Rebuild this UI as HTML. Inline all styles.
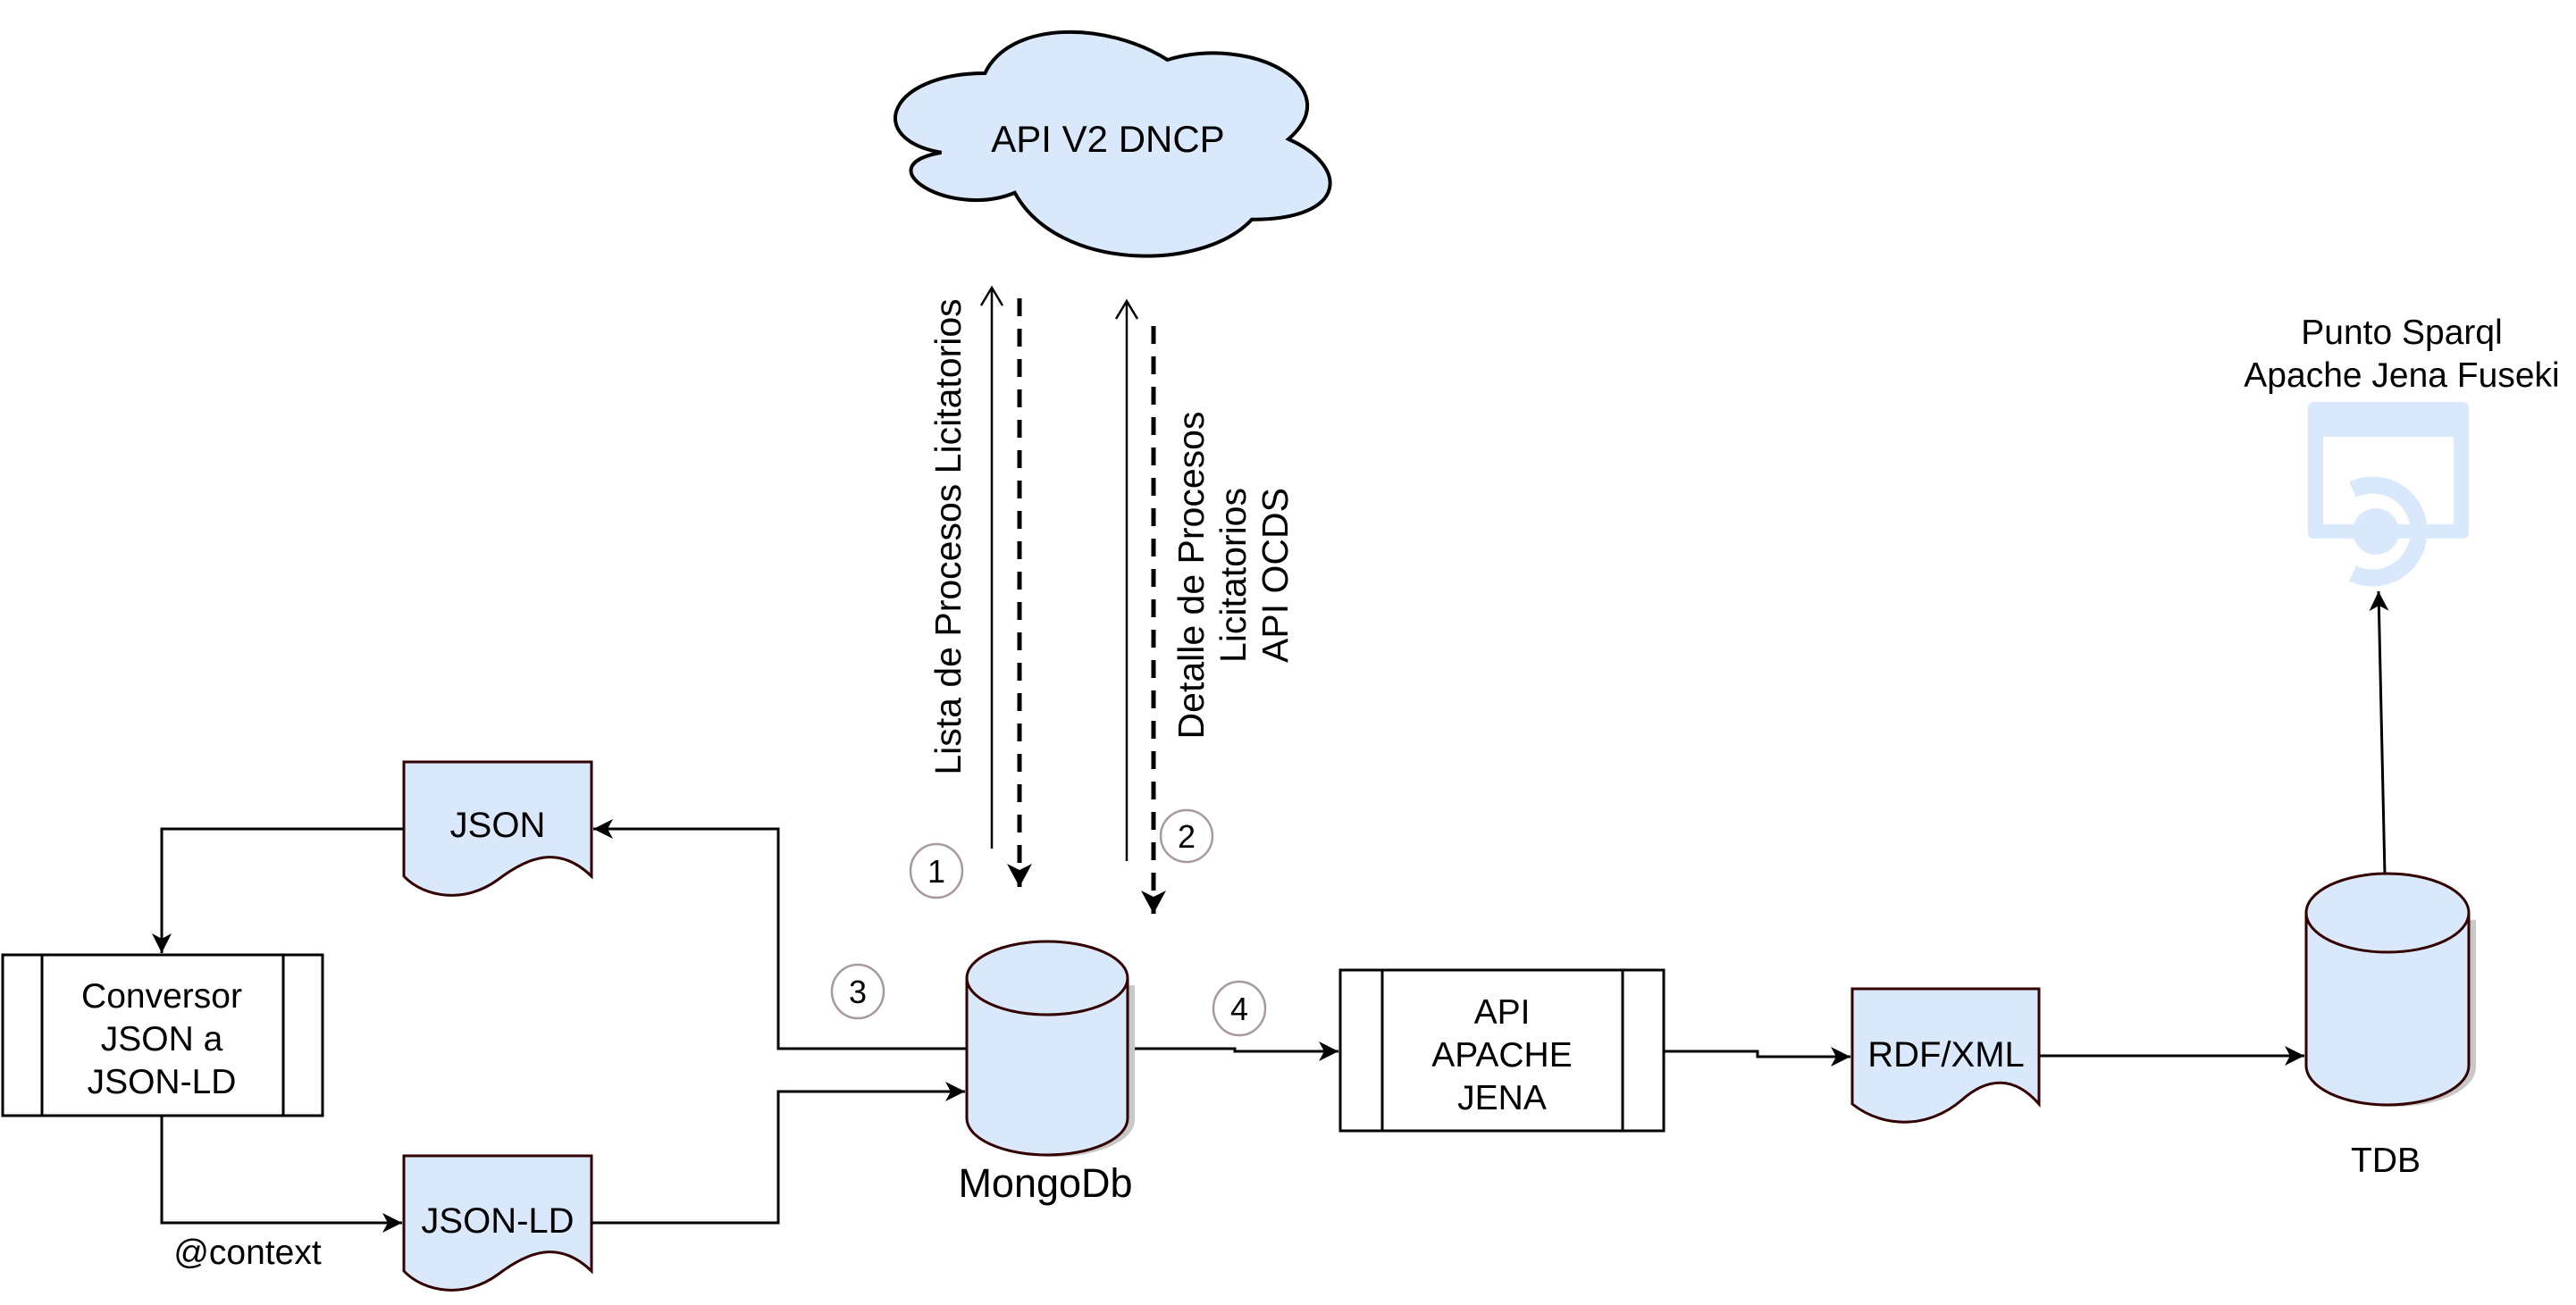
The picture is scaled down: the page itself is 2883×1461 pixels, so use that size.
<!DOCTYPE html>
<html><head><meta charset="utf-8"><style>
html,body{margin:0;padding:0;background:#fff;}
svg{display:block;font-family:"Liberation Sans",Arial,sans-serif;}
</style></head><body>
<svg width="2883" height="1461" viewBox="0 0 2883 1461" xmlns="http://www.w3.org/2000/svg">
<defs>
<marker id="a" markerUnits="userSpaceOnUse" markerWidth="30" markerHeight="24" refX="22" refY="11" orient="auto">
<path d="M0,0 L22,11 L0,22 L6,11 Z" fill="#000"/>
</marker>
<marker id="b" markerUnits="userSpaceOnUse" markerWidth="34" markerHeight="30" refX="26" refY="14" orient="auto">
<path d="M0,0 L26,14 L0,28 L7,14 Z" fill="#000"/>
</marker>
<marker id="o" markerUnits="userSpaceOnUse" markerWidth="30" markerHeight="30" refX="22" refY="14" orient="auto">
<path d="M2,2 L22,14 L2,26" fill="none" stroke="#000" stroke-width="2.5"/>
</marker>
</defs>
<g fill="#000" font-size="39" text-anchor="middle">

<!-- Cloud -->
<g transform="translate(1240,162) scale(1.11,1.25) translate(-1240,-177)">
<path d="M1116,113 C1018,113 994,172 1072,184 C994,196 1082,244 1146,220 C1190,291 1336,291 1385,244 C1483,244 1483,196 1422,172 C1483,125 1385,78 1300,101 C1238,66 1141,66 1116,113 Z" fill="#dae8fc" stroke="#000" stroke-width="4" vector-effect="non-scaling-stroke"/>
</g>
<text x="1240" y="170" font-size="42">API V2 DNCP</text>

<!-- vertical arrows -->
<line x1="1110" y1="950" x2="1110" y2="322" stroke="#000" stroke-width="2.5" marker-end="url(#o)"/>
<line x1="1141" y1="334" x2="1141" y2="993" stroke="#000" stroke-width="5" stroke-dasharray="20 14" marker-end="url(#b)"/>
<line x1="1261" y1="964" x2="1261" y2="337" stroke="#000" stroke-width="2.5" marker-end="url(#o)"/>
<line x1="1291" y1="365" x2="1291" y2="1023" stroke="#000" stroke-width="5" stroke-dasharray="20 14" marker-end="url(#b)"/>

<text transform="translate(1075,601) rotate(-90)" font-size="41">Lista de Procesos Licitatorios</text>
<text transform="translate(1347,644) rotate(-90)" font-size="41">Detalle de Procesos</text>
<text transform="translate(1394,644) rotate(-90)" font-size="41">Licitatorios</text>
<text transform="translate(1441,644) rotate(-90)" font-size="41">API OCDS</text>

<!-- numbered circles -->
<g fill="#fff" stroke="#a89a9a" stroke-width="2.5">
<ellipse cx="1048" cy="975" rx="29" ry="30"/>
<ellipse cx="1328" cy="936" rx="29" ry="29"/>
<ellipse cx="960" cy="1110" rx="29" ry="30"/>
<ellipse cx="1387" cy="1129" rx="29" ry="30"/>
</g>
<text x="1048" y="988" font-size="36">1</text>
<text x="1328" y="949" font-size="36">2</text>
<text x="960" y="1123" font-size="36">3</text>
<text x="1387" y="1142" font-size="36">4</text>

<!-- JSON doc -->
<path d="M452,853 H662 V981 C625,945 590,960 557,985 C520,1012 475,1005 452,981 Z" fill="#dae8fc" stroke="#330000" stroke-width="3"/>
<text x="557" y="937" font-size="40">JSON</text>
<!-- JSON-LD doc -->
<path d="M452,1294 H662 V1423 C625,1387 590,1402 557,1427 C520,1454 475,1447 452,1423 Z" fill="#dae8fc" stroke="#330000" stroke-width="3"/>
<text x="557" y="1380" font-size="40">JSON-LD</text>

<!-- Conversor -->
<rect x="3" y="1069" width="358" height="180" fill="#fff" stroke="#000" stroke-width="3"/>
<line x1="47" y1="1069" x2="47" y2="1249" stroke="#000" stroke-width="3"/>
<line x1="317" y1="1069" x2="317" y2="1249" stroke="#000" stroke-width="3"/>
<text x="181" y="1128">Conversor</text>
<text x="181" y="1176">JSON a</text>
<text x="181" y="1224">JSON-LD</text>

<!-- connectors -->
<g fill="none" stroke="#000" stroke-width="3">
<polyline points="452,928 181,928 181,1067" marker-end="url(#a)"/>
<polyline points="181,1249 181,1369 450,1369" marker-end="url(#a)"/>
<polyline points="1082,1174 871,1174 871,928 664,928" marker-end="url(#a)"/>
<polyline points="662,1369 871,1369 871,1222 1080,1222" marker-end="url(#a)"/>
<polyline points="1262,1174 1382,1174 1382,1177 1498,1177" marker-end="url(#a)"/>
<polyline points="1862,1177 1967,1177 1967,1183 2071,1183" marker-end="url(#a)"/>
<polyline points="2282,1182 2579,1182" marker-end="url(#a)"/>
<line x1="2669" y1="979" x2="2662" y2="662" marker-end="url(#a)"/>
</g>
<text x="277" y="1415">@context</text>

<!-- Mongo cylinder -->
<path d="M1090,1103 V1254 A90,41 0 0 0 1270,1254 V1103 Z" fill="#c8c8c8"/>
<path d="M1082,1095 V1252 A90,41 0 0 0 1262,1252 V1095 A90,41 0 0 0 1082,1095 Z" fill="#dae8fc" stroke="#330000" stroke-width="3"/>
<path d="M1082,1095 A90,41 0 0 0 1262,1095" fill="none" stroke="#330000" stroke-width="3"/>
<text x="1170" y="1340" font-size="45">MongoDb</text>

<!-- API APACHE JENA -->
<rect x="1500" y="1086" width="362" height="180" fill="#fff" stroke="#000" stroke-width="3"/>
<line x1="1547" y1="1086" x2="1547" y2="1266" stroke="#000" stroke-width="3"/>
<line x1="1816" y1="1086" x2="1816" y2="1266" stroke="#000" stroke-width="3"/>
<text x="1681" y="1146">API</text>
<text x="1681" y="1194">APACHE</text>
<text x="1681" y="1242">JENA</text>

<!-- RDF/XML doc -->
<path d="M2073,1107 H2282 V1236 C2255,1205 2225,1205 2195,1232 C2160,1262 2110,1265 2073,1236 Z" fill="#dae8fc" stroke="#330000" stroke-width="3"/>
<text x="2178" y="1194" font-size="40">RDF/XML</text>

<!-- TDB cylinder -->
<path d="M2589,1030 V1195 A91,44 0 0 0 2771,1195 V1030 Z" fill="#c8c8c8"/>
<path d="M2581,1022 V1193 A91,44 0 0 0 2763,1193 V1022 A91,44 0 0 0 2581,1022 Z" fill="#dae8fc" stroke="#330000" stroke-width="3"/>
<path d="M2581,1022 A91,44 0 0 0 2763,1022" fill="none" stroke="#330000" stroke-width="3"/>
<text x="2670" y="1312">TDB</text>

<!-- Fuseki icon -->
<text x="2688" y="385">Punto Sparql</text>
<text x="2688" y="433">Apache Jena Fuseki</text>
<path fill-rule="evenodd" fill="#dae8fc" d="M2590,450 H2756 Q2763,450 2763,457 V596 Q2763,603 2756,603 H2590 Q2583,603 2583,596 V457 Q2583,450 2590,450 Z M2600,489 V587 H2746 V489 Z"/>
<circle cx="2659" cy="595" r="26" fill="#dae8fc"/>
<path d="M2633,548 A52,52 0 1 1 2633,642" fill="none" stroke="#dae8fc" stroke-width="19"/>
</g>
</svg>
</body></html>
